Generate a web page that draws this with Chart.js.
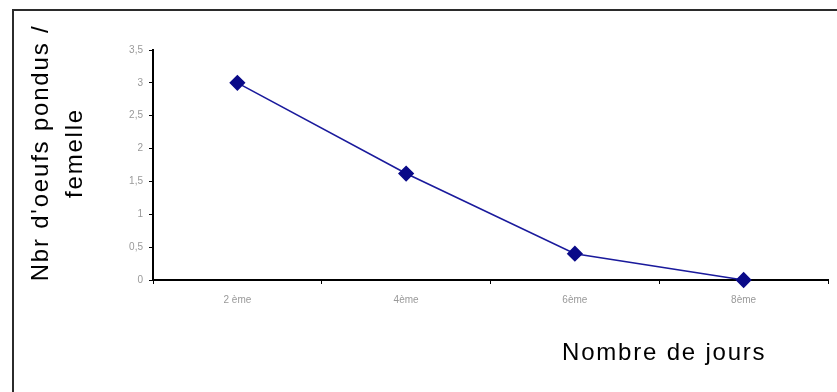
<!DOCTYPE html>
<html>
<head>
<meta charset="utf-8">
<script src="https://cdn.jsdelivr.net/npm/chart.js@4/dist/chart.umd.min.js"></script>
<style>
  html, body { margin: 0; padding: 0; background: #fff; }
  #wrap { width: 837px; height: 392px; position: relative; }
</style>
</head>
<body>
<div id="wrap"><canvas id="chart" width="837" height="392"></canvas></div>
<script>
// Data
const days = ['2 ème', '4ème', '6ème', '8ème'];
const eggsPerFemale = [3.0, 1.62, 0.4, 0.0];
const yTicks = [0, 0.5, 1, 1.5, 2, 2.5, 3, 3.5];

const yTitle = ["Nbr d'oeufs pondus /", 'femelle'];
const xTitle = 'Nombre de jours';

const navy = '#1a1a9c';
const markerNavy = '#0a0a88';

// frame + axis titles drawn by hand
const decor = {
    id: 'decor',
    beforeDraw(chart) {
        const ctx = chart.ctx;
        ctx.save();
        ctx.fillStyle = '#fff';
        ctx.fillRect(0, 0, chart.width, chart.height);
        ctx.strokeStyle = '#2b2b2b';
        ctx.lineWidth = 2;
        ctx.beginPath();
        ctx.moveTo(13, chart.height + 2);
        ctx.lineTo(13, 10);
        ctx.lineTo(chart.width + 2, 10);
        ctx.stroke();
        ctx.restore();
    },
    afterDraw(chart) {
        const ctx = chart.ctx;
        ctx.save();
        ctx.fillStyle = '#000';
        ctx.font = '24px "Liberation Sans", Arial, sans-serif';
        ctx.letterSpacing = '1.8px';
        ctx.textAlign = 'center';
        ctx.textBaseline = 'middle';
        ctx.save();
        ctx.translate(41, 153);
        ctx.rotate(-Math.PI / 2);
        ctx.fillText(yTitle[0], 0, 0);
        ctx.fillText(yTitle[1], 0, 34);
        ctx.restore();
        ctx.textAlign = 'left';
        ctx.fillText(xTitle, 562, 353);
        ctx.restore();
    }
};

new Chart(document.getElementById('chart'), {
    type: 'line',
    data: {
        labels: days,
        datasets: [{
            data: eggsPerFemale,
            borderColor: navy,
            borderWidth: 1.6,
            backgroundColor: markerNavy,
            pointStyle: 'rectRot',
            pointRadius: 7,
            pointHoverRadius: 7,
            pointBackgroundColor: markerNavy,
            pointBorderColor: markerNavy,
            tension: 0,
            clip: false
        }]
    },
    options: {
        responsive: false,
        animation: false,
        layout: { padding: { left: 0, top: 50, right: 9, bottom: 0 } },
        plugins: { legend: { display: false }, tooltip: { enabled: false } },
        scales: {
            x: {
                offset: true,
                afterFit: s => { s.height = 112; },
                grid: { drawOnChartArea: false, drawTicks: true, tickLength: 4, color: '#000', offset: true },
                border: { color: '#000', width: 2 },
                ticks: { color: '#999', font: { size: 10, family: 'Liberation Sans' }, padding: 10, maxRotation: 0 }
            },
            y: {
                min: 0,
                max: 3.5,
                afterFit: s => { s.width = 153; },
                afterBuildTicks: s => { s.ticks = yTicks.map(v => ({ value: v })); },
                grid: { drawOnChartArea: false, drawTicks: true, tickLength: 4, color: '#000' },
                border: { color: '#000', width: 2 },
                ticks: {
                    color: '#999',
                    font: { size: 10, family: 'Liberation Sans' },
                    padding: 6,
                    callback: v => String(v).replace('.', ',')
                }
            }
        }
    },
    plugins: [decor]
});
</script>
</body>
</html>
